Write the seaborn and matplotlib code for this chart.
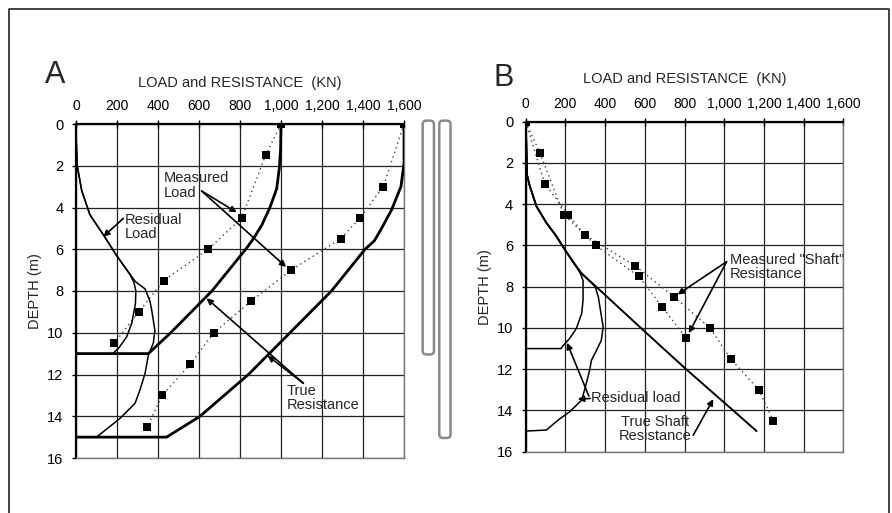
import numpy as np
import pandas as pd
import seaborn as sns
import matplotlib
matplotlib.use("Agg")
import matplotlib.pyplot as plt
from matplotlib.patches import FancyBboxPatch
from matplotlib.lines import Line2D

# ---------------- data ----------------
load_ticks = [0, 200, 400, 600, 800, 1000, 1200, 1400, 1600]
load_tick_labels = ["0", "200", "400", "600", "800", "1,000", "1,200", "1,400", "1,600"]
depth_ticks = [0, 2, 4, 6, 8, 10, 12, 14, 16]

# Panel A - measured load (markers + dotted)
a_meas1_depth = [0, 1.5, 4.5, 6.0, 7.5, 9.0, 10.5]
a_meas1_load = [1000, 925, 808, 645, 428, 306, 187]
a_meas2_depth = [0, 3.0, 4.5, 5.5, 7.0, 8.5, 10.0, 11.5, 13.0, 14.5]
a_meas2_load = [1600, 1499, 1385, 1291, 1049, 852, 672, 558, 420, 348]

# Panel A - true resistance curves
a_true1_depth = [0, 1.2, 2.1, 3.1, 4.0, 4.85, 5.5, 6.0, 8.0, 10.0, 11.0, 11.0]
a_true1_load = [1000, 998, 992, 979, 946, 906, 865, 828, 663, 462, 353, 0]
a_true2_depth = [0, 1.9, 3.0, 4.1, 5.1, 5.6, 6.0, 8.0, 10.0, 12.0, 14.0, 14.4, 15.0, 15.0]
a_true2_load = [1600, 1600, 1585, 1540, 1485, 1455, 1410, 1246, 1044, 841, 605, 540, 442, 0]

# Panel A - residual load curves
a_res1_depth = [0, 0.5, 2.0, 3.2, 4.35, 5.3, 6.3, 7.2, 7.6, 8.0, 8.6, 9.55, 10.2, 10.75, 11.0]
a_res1_load = [0, 0, 6, 28, 68, 133, 198, 263, 283, 292, 290, 272, 247, 207, 179]
a_res2_depth = [0, 0.5, 2.0, 3.2, 4.35, 5.3, 6.3, 7.2, 7.55, 7.9, 8.5, 8.9, 9.9, 10.5,
                11.07, 11.94, 12.74, 13.38, 14.1, 14.93, 15.0]
a_res2_load = [0, 0, 6, 28, 68, 133, 198, 263, 290, 337, 361, 369, 385, 377,
               353, 337, 312, 288, 215, 109, 100]

# Pile lengths (m)
pile_lengths = [11, 15]

# Panel B - measured "shaft" resistance
b_meas1_depth = [0, 1.5, 4.5, 6.0, 7.5, 9.0, 10.5]
b_meas1_load = [0, 71, 192, 353, 570, 689, 810]
b_meas2_depth = [0, 3.0, 4.5, 5.5, 7.0, 8.5, 10.0, 11.5, 13.0, 14.5]
b_meas2_load = [0, 96, 213, 301, 553, 748, 928, 1033, 1174, 1247]

# Panel B - true shaft resistance
b_true_depth = [0, 1.0, 2.6, 3.1, 4.1, 4.9, 5.56, 6.2, 6.8, 7.35, 8.0, 10.0, 12.0, 14.0, 15.0]
b_true_load = [0, 3, 7, 20, 54, 104, 155, 197, 239, 281, 355, 580, 808, 1045, 1163]

# Panel B - residual load
b_res1_depth = [0, 1.0, 2.6, 3.1, 4.1, 4.9, 5.56, 6.2, 6.8, 7.35, 7.7, 8.65, 9.3,
                10.03, 10.5, 10.9, 11.0, 11.0]
b_res1_load = [0, 3, 7, 20, 54, 104, 155, 197, 239, 275, 289, 289, 282,
               255, 222, 185, 178, 0]
b_res2_depth = [0, 1.0, 2.6, 3.1, 4.1, 4.9, 5.56, 6.2, 6.8, 7.35, 8.0, 8.5, 9.1, 9.95,
                10.6, 11.1, 11.57, 12.0, 12.67, 13.5, 14.06, 14.47, 14.95, 15.0]
b_res2_load = [0, 3, 7, 20, 54, 104, 155, 197, 239, 281, 350, 366, 376, 390,
               381, 356, 331, 323, 306, 282, 222, 163, 104, 0]

# ---------------- styling ----------------
sns.set_style("white")
plt.rcParams["font.family"] = ["Liberation Sans", "DejaVu Sans"]

W, H = 892, 513
fig = plt.figure(figsize=(W / 100, H / 100), dpi=100)
fig.patch.set_facecolor("white")

axA = fig.add_axes([76 / W, 1 - 458 / H, 328 / W, 334 / H])
axB = fig.add_axes([525.7 / W, 1 - 451.7 / H, 317.6 / W, 330 / H])


def style_axes(ax):
    ax.set_xlim(0, 1600)
    ax.set_ylim(16, 0)
    ax.set_xticks(load_ticks)
    ax.set_xticklabels(load_tick_labels)
    ax.set_yticks(depth_ticks)
    ax.set_yticklabels([str(d) for d in depth_ticks])
    ax.xaxis.tick_top()
    ax.grid(True, color="#222222", lw=0.9)
    ax.set_axisbelow(True)
    for s in ["top", "left"]:
        ax.spines[s].set_color("black")
        ax.spines[s].set_linewidth(1.6)
    for s in ["bottom", "right"]:
        ax.spines[s].set_color("#777777")
        ax.spines[s].set_linewidth(1.0)
        ax.spines[s].set_linestyle((0, (1, 1)))
    ax.tick_params(axis="x", top=True, bottom=False, direction="inout", length=6,
                   width=1.0, pad=5, labelsize=10, colors="black")
    ax.tick_params(axis="y", left=True, direction="out", length=3, width=1.0,
                   pad=6, labelsize=10.5, colors="black")
    ax.set_xlabel("")
    ax.set_ylabel("DEPTH (m)", fontsize=10.5)
    ax.yaxis.set_label_coords(-0.104, 0.5)


def dotted(ax, x, y):
    sns.lineplot(x=x, y=y, ax=ax, sort=False, estimator=None, color="#444444",
                 lw=1.0, linestyle=(0, (1, 2.5)), zorder=3)


def markers(ax, x, y):
    sns.scatterplot(x=x, y=y, ax=ax, marker="s", s=34, color="black",
                    edgecolor="black", linewidth=0, zorder=6)


def solid(ax, x, y, lw):
    sns.lineplot(x=x, y=y, ax=ax, sort=False, estimator=None, color="black",
                 lw=lw, zorder=4)


arrow_kw = dict(arrowstyle="-|>", color="black", lw=1.2, mutation_scale=9,
                shrinkA=0, shrinkB=0)


def arrow(ax, start, tip):
    ax.annotate("", xy=tip, xytext=start, arrowprops=arrow_kw, zorder=7)


# ---------------- Panel A ----------------
dotted(axA, a_meas1_load, a_meas1_depth)
dotted(axA, a_meas2_load, a_meas2_depth)
solid(axA, a_true1_load, a_true1_depth, 2.0)
solid(axA, a_true2_load, a_true2_depth, 2.0)
solid(axA, a_res1_load, a_res1_depth, 1.1)
solid(axA, a_res2_load, a_res2_depth, 1.1)
markers(axA, a_meas1_load, a_meas1_depth)
markers(axA, a_meas2_load, a_meas2_depth)
style_axes(axA)

axA.text(426, 2.25, "Measured\nLoad", ha="left", va="top", fontsize=10.5,
         linespacing=1.05)
arrow(axA, (613, 3.21), (784, 4.23))
arrow(axA, (613, 3.21), (1025, 6.85))
axA.text(239, 4.25, "Residual\nLoad", ha="left", va="top", fontsize=10.5,
         linespacing=1.05)
arrow(axA, (231, 4.52), (133, 5.4))
axA.text(1028, 12.45, "True\nResistance", ha="left", va="top", fontsize=10.5,
         linespacing=1.05)
arrow(axA, (1109, 12.42), (637, 8.35))
arrow(axA, (1109, 12.42), (935, 11.1))

# pile sketches to the right of panel A
pile_x = [1691, 1772]
for px, plen in zip(pile_x, pile_lengths):
    patch = FancyBboxPatch((px, -0.16), 55, plen + 0.2,
                           boxstyle="round,pad=0,rounding_size=18",
                           mutation_aspect=0.0098, ec="#8a8a8a", fc="white",
                           lw=1.8, clip_on=False, transform=axA.transData)
    axA.add_patch(patch)

axA.text(0.5, 1 + (124 - 83.5) / 334, "LOAD and RESISTANCE  (KN)",
         transform=axA.transAxes, ha="center", va="center", fontsize=10.5)
fig.text(45 / W, 1 - 83 / H, "A", ha="left", va="baseline", fontsize=22)

# ---------------- Panel B ----------------
dotted(axB, b_meas1_load, b_meas1_depth)
dotted(axB, b_meas2_load, b_meas2_depth)
solid(axB, b_true_load, b_true_depth, 1.4)
solid(axB, b_res1_load, b_res1_depth, 1.1)
solid(axB, b_res2_load, b_res2_depth, 1.1)
markers(axB, b_meas1_load, b_meas1_depth)
markers(axB, b_meas2_load, b_meas2_depth)
style_axes(axB)
axB.yaxis.set_label_coords(-0.106, 0.5)

axB.text(1029, 6.35, 'Measured "Shaft"\nResistance', ha="left", va="top",
         fontsize=10.5, linespacing=1.05)
arrow(axB, (1012, 6.79), (765, 8.38))
arrow(axB, (1012, 6.79), (822, 10.25))
axB.text(330, 13.4, "Residual load", ha="left", va="center", fontsize=10.5)
arrow(axB, (318, 13.3), (208, 10.72))
arrow(axB, (325, 13.42), (262, 13.45))
axB.text(651, 14.2, "True Shaft\nResistance", ha="center", va="top", fontsize=10.5,
         linespacing=1.05)
arrow(axB, (844, 15.2), (945, 13.45))

axB.text(0.5, 1 + (121.7 - 78.5) / 330, "LOAD and RESISTANCE  (KN)",
         transform=axB.transAxes, ha="center", va="center", fontsize=10.5)
fig.text(493 / W, 1 - 86.5 / H, "B", ha="left", va="baseline", fontsize=22)

# outer frame (left, top, right)
fx0, fx1, fy = 9 / W, 889 / W, 1 - 9 / H
fig.add_artist(Line2D([fx0, fx0, fx1, fx1], [0, fy, fy, 0],
                      transform=fig.transFigure, color="#222222", lw=1.2))

fig.savefig("out.png", dpi=100, facecolor="white")
